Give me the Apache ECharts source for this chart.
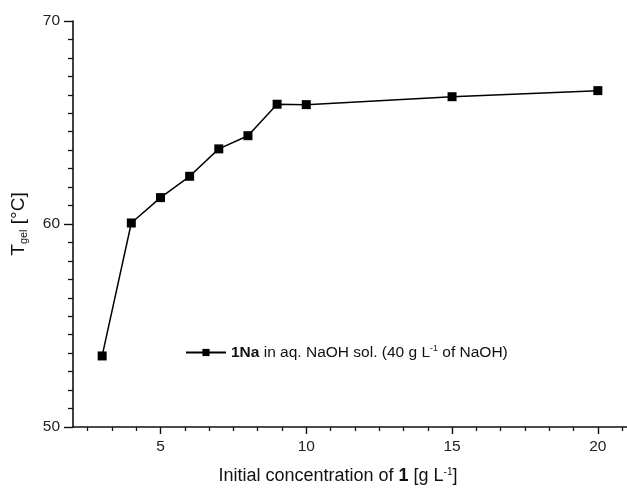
<!DOCTYPE html>
<html>
<head>
    <meta charset="UTF-8">
    <title>Tgel</title>
    <script src="https://cdn.jsdelivr.net/npm/echarts@6/dist/echarts.min.js"></script>
    <style>
        html, body { margin: 0; padding: 0; background: #fff; }
        #main { width: 627px; height: 494px; }
    </style>
</head>
<body>
<div id="main"></div>
<script type="text/javascript">
    // 浓度 (g/L) 与 Tgel (°C)
    var concentrations = [3, 4, 5, 6, 7, 8, 9, 10, 15, 20];
    var tgelValues = [53.5, 60.05, 61.3, 62.35, 63.7, 64.35, 65.9, 65.88, 66.27, 66.57];
    var xTickLabels = [5, 10, 15, 20];
    var yTickLabels = [50, 60, 70];

    // x 轴次刻度: 每 5/6 一格
    var xMinorTicks = [];
    for (var k = -3; k <= 19; k++) {
        if (k % 6 !== 0) xMinorTicks.push(5 + k * 5 / 6);
    }

    var seriesData = concentrations.map(function (c, i) { return [c, tgelValues[i]]; });

    var font = '"Liberation Sans", Arial, sans-serif';
    var myChart = echarts.init(document.getElementById('main'));

    var option = {
        animation: false,
        grid: { left: 73, right: 0, top: 21, bottom: 67 },
        legend: {
            left: 180,
            top: 339,
            itemWidth: 40,
            itemHeight: 9,
            itemGap: 8,
            formatter: function () {
                return '{b|1Na} in aq. NaOH sol. (40 g L{sup|-1} of NaOH)';
            },
            textStyle: {
                fontFamily: font,
                fontSize: 15.5,
                color: '#111',
                rich: {
                    b: { fontFamily: font, fontSize: 15.5, fontWeight: 'bold', color: '#111' },
                    sup: { fontFamily: font, fontSize: 9, color: '#111', verticalAlign: 'top', padding: [0, 0, 8, 0] }
                }
            },
            data: ['series']
        },
        xAxis: [{
            type: 'value',
            min: 2,
            max: 21,
            name: '{a|Initial concentration of }{b|1}{a| [g L}{sup|-1}{a|]}',
            nameLocation: 'middle',
            nameGap: 40,
            nameTextStyle: {
                padding: [0, 24, 0, 0],
                rich: {
                    a: { fontFamily: font, fontSize: 18, color: '#111' },
                    b: { fontFamily: font, fontSize: 18, fontWeight: 'bold', color: '#111' },
                    sup: { fontFamily: font, fontSize: 10, color: '#111', verticalAlign: 'top', padding: [0, 0, 9, 0] }
                }
            },
            axisLine: { lineStyle: { color: '#111', width: 1.6 } },
            axisTick: { customValues: xTickLabels, length: 7, lineStyle: { color: '#111', width: 1.4 } },
            axisLabel: { customValues: xTickLabels, margin: 12, fontFamily: font, fontSize: 15.5, color: '#222' },
            splitLine: { show: false }
        }, {
            type: 'value',
            min: 2,
            max: 21,
            position: 'bottom',
            axisLine: { show: false },
            axisTick: { customValues: xMinorTicks, length: 4, lineStyle: { color: '#111', width: 1.3 } },
            axisLabel: { show: false },
            splitLine: { show: false }
        }],
        yAxis: {
            type: 'value',
            min: 50,
            max: 70,
            interval: 10,
            name: '{a|T}{sub|gel}{a| [°C]}',
            nameLocation: 'middle',
            nameRotate: 90,
            nameGap: 44,
            nameTextStyle: {
                rich: {
                    a: { fontFamily: font, fontSize: 19, color: '#111' },
                    sub: { fontFamily: font, fontSize: 11, color: '#111', verticalAlign: 'bottom', padding: [9, 0, 0, 0] }
                }
            },
            axisLine: { show: true, lineStyle: { color: '#111', width: 1.6 } },
            axisTick: { length: 9, lineStyle: { color: '#111', width: 1.4 } },
            minorTick: { show: true, splitNumber: 11, length: 5, lineStyle: { color: '#111', width: 1.3 } },
            axisLabel: { margin: 13, fontFamily: font, fontSize: 15.5, color: '#222' },
            splitLine: { show: false },
            minorSplitLine: { show: false }
        },
        series: [{
            name: 'series',
            type: 'line',
            data: seriesData,
            symbol: 'rect',
            symbolSize: 9,
            itemStyle: { color: '#000' },
            lineStyle: { color: '#000', width: 1.5 }
        }]
    };
    myChart.setOption(option);
</script>
</body>
</html>
